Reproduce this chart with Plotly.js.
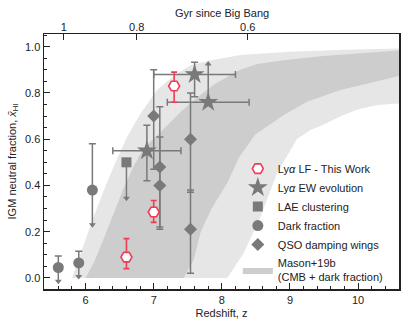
<!DOCTYPE html>
<html>
<head>
<meta charset="utf-8">
<script src="https://cdn.plot.ly/plotly-3.0.1.min.js"></script>
<style>
  html, body { margin: 0; padding: 0; background: #fff; }
  #chart { width: 407px; height: 326px; }
</style>
</head>
<body>
<div id="chart"></div>
<script>
// Lya LF - this work
const lfZ = [6.6, 7.0, 7.3];
const lfX = [0.09, 0.285, 0.83];
const lfUp = [0.08, 0.05, 0.06];
const lfDown = [0.05, 0.045, 0.07];

// Lya EW evolution (2nd point is a lower limit)
const ewZ = [7.6, 7.8, 6.9];
const ewX = [0.88, 0.76, 0.55];
const ewUp = [0.053, 0, 0.11];
const ewDown = [0.096, 0, 0.13];
const ewZErr = [0.6, 0.6, 0.5];
const ewLimitIdx = [1];
const ewLimitTo = [0.925];

// LAE clustering (upper limit)
const laeZ = [6.6];
const laeX = [0.50];
const laeLimitTo = [0.345];

// dark fraction (upper limits)
const darkZ = [5.6, 5.9, 6.1];
const darkX = [0.045, 0.065, 0.38];
const darkUp = [0.05, 0.05, 0.20];
const darkLimitTo = [-0.015, 0.006, 0.23];

// QSO damping wings
const qsoZ = [7.0, 7.09, 7.09, 7.54, 7.54];
const qsoX = [0.70, 0.48, 0.40, 0.60, 0.21];
const qsoUp = [0.20, 0.26, 0.21, 0.20, 0.17];
const qsoDown = [0.23, 0.26, 0.19, 0.23, 0.19];

// Mason+19b bands: outer (light) and inner (dark), upper and lower edges
const outerUpZ = [5.80, 5.90, 6.00, 6.12, 6.27, 6.44, 6.61, 6.81, 7.05, 7.30, 7.54, 7.83, 8.27, 9.00, 9.80, 10.7];
const outerUpX = [0.00, 0.08, 0.165, 0.266, 0.38, 0.50, 0.611, 0.712, 0.813, 0.875, 0.92, 0.940, 0.964, 0.978, 0.987, 0.993];
const outerLoZ = [8.08, 8.32, 8.57, 8.81, 9.10, 9.30, 9.49, 9.75, 9.98, 10.28, 10.7];
const outerLoX = [0.00, 0.107, 0.266, 0.453, 0.600, 0.640, 0.662, 0.700, 0.727, 0.748, 0.757];
const innerUpZ = [6.00, 6.12, 6.26, 6.41, 6.56, 6.70, 6.85, 7.15, 7.40, 7.64, 7.90, 8.27, 8.52, 9.00, 9.49, 10.7];
const innerUpX = [0.00, 0.065, 0.165, 0.28, 0.39, 0.48, 0.56, 0.645, 0.72, 0.78, 0.84, 0.90, 0.925, 0.945, 0.960, 0.986];
const innerLoZ = [7.44, 7.59, 7.69, 7.85, 8.08, 8.25, 8.49, 8.91, 9.25, 9.74, 10.7];
const innerLoX = [0.00, 0.08, 0.20, 0.30, 0.41, 0.52, 0.62, 0.705, 0.762, 0.813, 0.880];

// top axis: age of the universe
const gyrTickText = ['1', '0.8', '0.6'];
const gyrTickZ = [5.68, 6.75, 8.38];

const gray = '#797979';
const red = '#ee3d57';

function band(upZ, upX, loZ, loX, color, name, show) {
  return {
    type: 'scatter', mode: 'lines',
    x: upZ.concat(loZ.slice().reverse()),
    y: upX.concat(loX.slice().reverse()),
    fill: 'toself', fillcolor: color,
    line: {width: 0, color: color},
    name: name, showlegend: show, legendrank: 6,
    hoverinfo: 'skip'
  };
}

// arrow for a limit: arrowhead at the limit end, line back to the point
function arrows(z, x, to, dir) {
  return {
    type: 'scatter', mode: 'markers',
    x: z, y: to,
    marker: {symbol: dir > 0 ? 'triangle-up' : 'triangle-down', size: 6, color: gray},
    error_y: dir > 0
      ? {type: 'data', symmetric: false, array: to.map(() => 0), arrayminus: to.map((t, i) => t - x[i]), width: 0, thickness: 1.5, color: gray}
      : {type: 'data', symmetric: false, array: to.map((t, i) => x[i] - t), arrayminus: to.map(() => 0), width: 0, thickness: 1.5, color: gray},
    showlegend: false, hoverinfo: 'skip'
  };
}

const traces = [
  band(outerUpZ, outerUpX, outerLoZ, outerLoX, '#e6e6e6', 'outer', false),
  band(innerUpZ, innerUpX, innerLoZ, innerLoX, '#cdcdcd', 'Mason+19b<br>(CMB + dark fraction)', true),
  arrows(ewLimitIdx.map(i => ewZ[i]), ewLimitIdx.map(i => ewX[i]), ewLimitTo, 1),
  arrows(laeZ, laeX, laeLimitTo, -1),
  arrows(darkZ, darkX, darkLimitTo, -1),
  {
    type: 'scatter', mode: 'markers', name: 'QSO damping wings', legendrank: 5,
    x: qsoZ, y: qsoX,
    marker: {symbol: 'diamond', size: 10, color: gray},
    error_y: {type: 'data', symmetric: false, array: qsoUp, arrayminus: qsoDown, width: 3.5, thickness: 1.5, color: gray}
  },
  {
    type: 'scatter', mode: 'markers', name: 'Dark fraction', legendrank: 4,
    x: darkZ, y: darkX,
    marker: {symbol: 'circle', size: 11, color: gray},
    error_y: {type: 'data', symmetric: false, array: darkUp, arrayminus: darkUp.map(() => 0), width: 3.5, thickness: 1.5, color: gray}
  },
  {
    type: 'scatter', mode: 'markers', name: 'LAE clustering', legendrank: 3,
    x: laeZ, y: laeX,
    marker: {symbol: 'square', size: 10, color: gray}
  },
  {
    type: 'scatter', mode: 'markers', name: 'Ly<i>α</i> EW evolution', legendrank: 2,
    x: ewZ, y: ewX,
    marker: {symbol: 'star', size: 15, color: gray},
    error_y: {type: 'data', symmetric: false, array: ewUp, arrayminus: ewDown, width: 3.5, thickness: 1.5, color: gray},
    error_x: {type: 'data', array: ewZErr, width: 3.5, thickness: 1.5, color: gray}
  },
  {
    type: 'scatter', mode: 'markers', name: 'Ly<i>α</i> LF - This Work', legendrank: 1,
    x: lfZ, y: lfX,
    marker: {symbol: 'hexagon2', size: 11, color: '#ffffff', line: {color: red, width: 1.6}},
    error_y: {type: 'data', symmetric: false, array: lfUp, arrayminus: lfDown, width: 3, thickness: 1.6, color: red}
  },
  {
    // carries the top axis
    type: 'scatter', mode: 'markers', xaxis: 'x2',
    x: gyrTickZ, y: gyrTickZ.map(() => null),
    showlegend: false, hoverinfo: 'skip'
  }
];

const font = {family: 'Liberation Sans, Arial, sans-serif', size: 11, color: '#222'};
const xRange = [5.39, 10.6];

const layout = {
  width: 407, height: 326,
  margin: {l: 44, r: 8, t: 34, b: 37},
  paper_bgcolor: '#fff', plot_bgcolor: '#fff',
  font: font,
  showlegend: true,
  legend: {
    x: 0.546, y: 0.529, xanchor: 'left', yanchor: 'top',
    bgcolor: 'rgba(0,0,0,0)', font: font, tracegroupgap: 0
  },
  xaxis: {
    range: xRange, showgrid: false, zeroline: false,
    showline: true, mirror: true, linecolor: '#222', linewidth: 1.5,
    ticks: 'inside', ticklen: 6, tickcolor: '#222', tickwidth: 1,
    tickvals: [6, 7, 8, 9, 10],
    minor: {dtick: 0.2, ticks: 'inside', ticklen: 3, tickcolor: '#222', showgrid: false},
    title: {text: 'Redshift, z', font: font, standoff: 4}
  },
  xaxis2: {
    range: xRange, overlaying: 'x', side: 'top', anchor: 'y',
    showgrid: false, zeroline: false, showline: false,
    ticks: 'inside', ticklen: 6, tickcolor: '#222', tickwidth: 1,
    tickvals: gyrTickZ, ticktext: gyrTickText
  },
  yaxis: {
    range: [-0.048, 1.055], showgrid: false, zeroline: false,
    showline: true, mirror: true, linecolor: '#222', linewidth: 1.5,
    ticks: 'inside', ticklen: 6, tickcolor: '#222', tickwidth: 1,
    dtick: 0.2, tick0: 0, tickformat: '.1f',
    minor: {dtick: 0.05, ticks: 'inside', ticklen: 3, tickcolor: '#222', showgrid: false},
    title: {text: 'IGM neutral fraction, <i>x̄</i><sub>HI</sub>', font: font, standoff: 6}
  },
  annotations: [{
    text: 'Gyr since Big Bang', font: font, showarrow: false,
    xref: 'paper', yref: 'paper', x: 0.5, y: 1,
    xanchor: 'center', yanchor: 'middle', yshift: 21
  }]
};

Plotly.newPlot('chart', traces, layout, {displayModeBar: false, staticPlot: true});
</script>
</body>
</html>
